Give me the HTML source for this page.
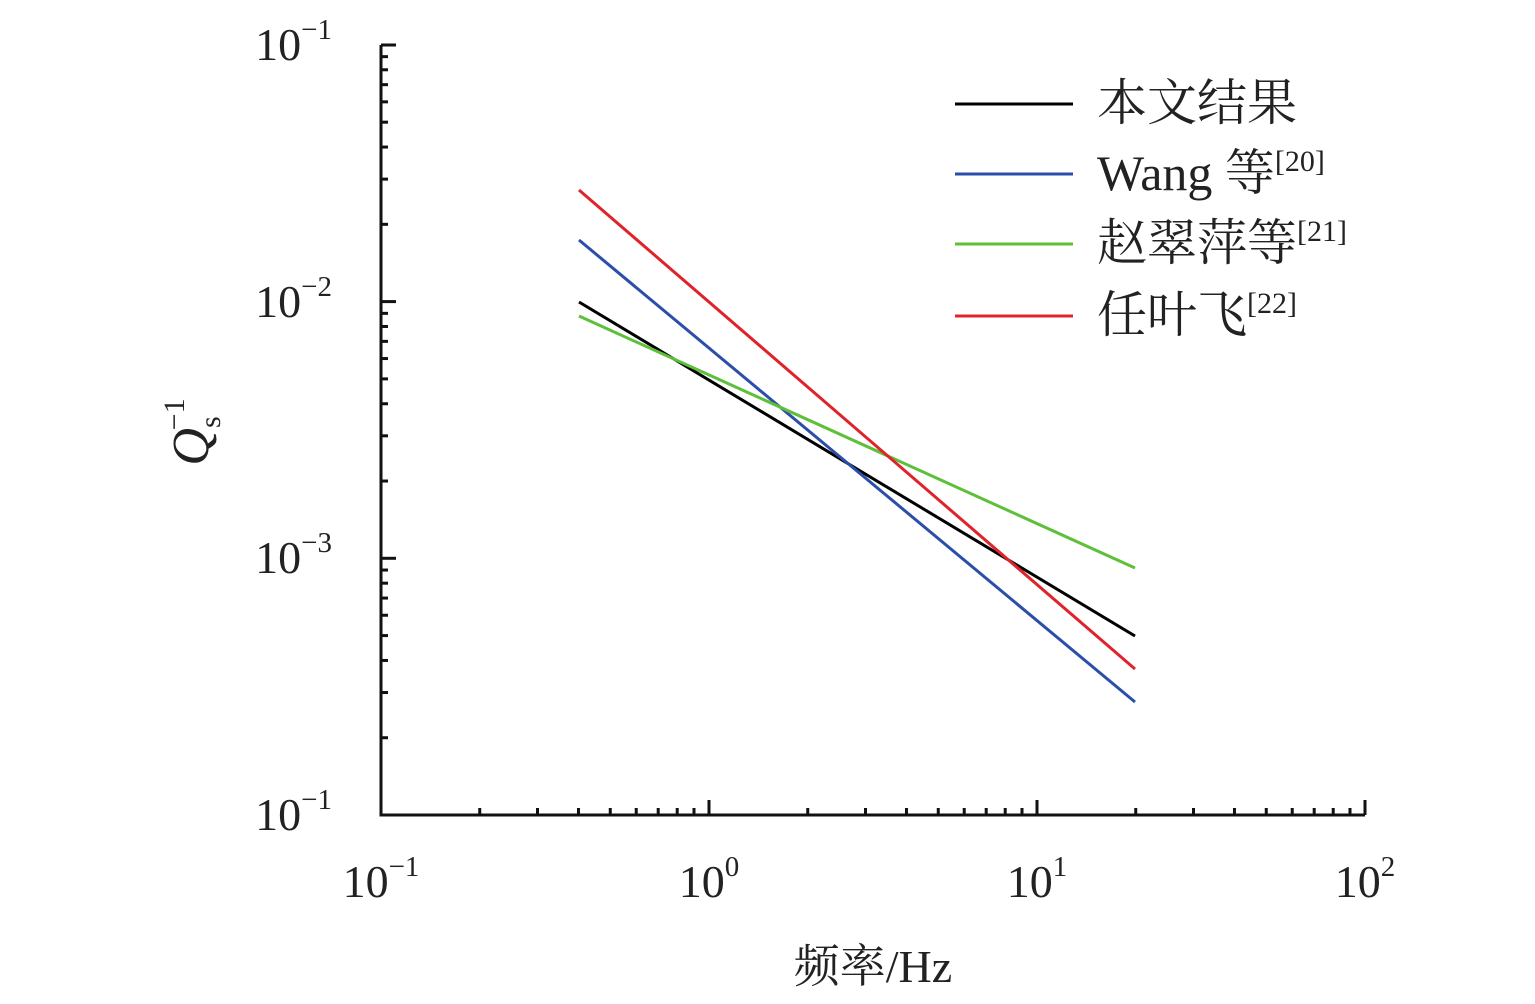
<!DOCTYPE html>
<html><head><meta charset="utf-8"><style>
html,body{margin:0;padding:0;background:#fff;}
svg text{font-family:"Liberation Serif","Noto Serif CJK SC",serif;fill:#222;}
</style></head><body>
<svg id="s" width="1535" height="999" viewBox="0 0 1535 999" xmlns="http://www.w3.org/2000/svg">
<g id="ticks" stroke="#111" stroke-width="3"></g>
<path d="M381,45 V815 H1365" fill="none" stroke="#111" stroke-width="3"/>
<g font-size="46">
<text x="332" y="60" text-anchor="end">10<tspan font-size="29" dy="-21">−1</tspan></text>
<text x="332" y="317" text-anchor="end">10<tspan font-size="29" dy="-21">−2</tspan></text>
<text x="332" y="573" text-anchor="end">10<tspan font-size="29" dy="-21">−3</tspan></text>
<text x="332" y="830" text-anchor="end">10<tspan font-size="29" dy="-21">−1</tspan></text>
<text x="381" y="897" text-anchor="middle">10<tspan font-size="29" dy="-21">−1</tspan></text>
<text x="709" y="897" text-anchor="middle">10<tspan font-size="29" dy="-21">0</tspan></text>
<text x="1037" y="897" text-anchor="middle">10<tspan font-size="29" dy="-21">1</tspan></text>
<text x="1365" y="897" text-anchor="middle">10<tspan font-size="29" dy="-21">2</tspan></text>
<text x="873" y="982" text-anchor="middle">频率/Hz</text>
</g>
<g transform="translate(208,432) rotate(-90)" font-size="52">
<text x="0" y="0" text-anchor="middle" font-style="italic">Q<tspan font-size="30" font-style="normal" dy="12">s</tspan><tspan font-size="30" font-style="normal" dy="-36" dx="-14">−1</tspan></text>
</g>
<g stroke-width="3" fill="none">
<line x1="579" y1="302" x2="1135" y2="636" stroke="#000"/>
<line x1="579" y1="240" x2="1135" y2="702" stroke="#2b4ea8"/>
<line x1="579" y1="316" x2="1135" y2="568" stroke="#5ec03a"/>
<line x1="579" y1="190" x2="1135" y2="669" stroke="#e0232b"/>
<line x1="955" y1="104" x2="1073" y2="104" stroke="#000"/>
<line x1="955" y1="174" x2="1073" y2="174" stroke="#2b4ea8"/>
<line x1="955" y1="244" x2="1073" y2="244" stroke="#5ec03a"/>
<line x1="955" y1="316" x2="1073" y2="316" stroke="#e0232b"/>
</g>
<g font-size="50">
<text x="1097" y="120">本文结果</text>
<text x="1097" y="190">Wang 等<tspan font-size="30" dy="-19">[20]</tspan></text>
<text x="1097" y="260">赵翠萍等<tspan font-size="30" dy="-19">[21]</tspan></text>
<text x="1097" y="332">任叶飞<tspan font-size="30" dy="-19">[22]</tspan></text>
</g>
</svg>
<script>
var g=document.getElementById('ticks'),h='';
for(var d=0;d<3;d++){for(var k=1;k<10;k++){var l=(k==1?15:7);
var x=381+328*(d+Math.log10(k));h+='<line x1="'+x+'" y1="815" x2="'+x+'" y2="'+(815-l)+'"/>';
var y=815-256.7*(d+Math.log10(k));h+='<line x1="381" y1="'+y+'" x2="'+(381+l)+'" y2="'+y+'"/>';}}
h+='<line x1="1365" y1="815" x2="1365" y2="800"/><line x1="381" y1="45" x2="396" y2="45"/>';
g.innerHTML=h;
</script>
</body></html>
